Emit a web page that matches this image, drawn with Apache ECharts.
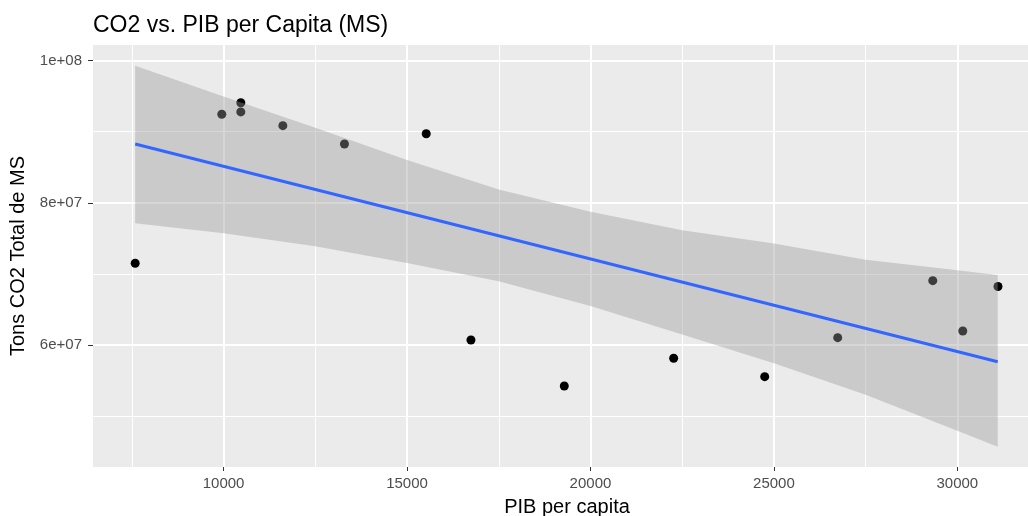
<!DOCTYPE html>
<html>
<head>
<meta charset="utf-8">
<script src="https://cdn.jsdelivr.net/npm/echarts@6/dist/echarts.min.js"></script>
<style>
  html, body { margin: 0; padding: 0; background: #ffffff; }
  #chart { width: 1028px; height: 516px; }
</style>
</head>
<body>
<div id="chart"></div>
<script>
// ---- data ----
const pibPerCapita = [7590, 9951, 10469, 10469, 11615, 13294, 15523, 16742, 19286, 22267, 24749, 26739, 29330, 30148, 31108];
const co2Total     = [7.151e7, 9.245e7, 9.408e7, 9.278e7, 9.085e7, 8.828e7, 8.972e7, 6.073e7, 5.426e7, 5.815e7, 5.557e7, 6.105e7, 6.906e7, 6.199e7, 6.825e7];

// fitted line (lm) end points
const fitX = [7590, 31100];
const fitY = [8.828e7, 5.767e7];

// confidence band edges
const bandX     = [7590, 10000, 12500, 15000, 17500, 20000, 22500, 25000, 27500, 30000, 31100];
const bandUpper = [9.928e7, 9.495e7, 9.057e7, 8.603e7, 8.188e7, 7.876e7, 7.615e7, 7.430e7, 7.201e7, 7.051e7, 6.986e7];
const bandLower = [7.713e7, 7.572e7, 7.390e7, 7.155e7, 6.898e7, 6.550e7, 6.148e7, 5.746e7, 5.302e7, 4.796e7, 4.570e7];

// axis ticks
const xTickValues = [10000, 15000, 20000, 25000, 30000];
const xTickLabels = ['10000', '15000', '20000', '25000', '30000'];
const yTickValues = [6e7, 8e7, 1e8];
const yTickLabels = ['6e+07', '8e+07', '1e+08'];

const xRange = [6440, 32280];
const yRange = [4.287e7, 1.0219e8];

// ---- chart ----
const chart = echarts.init(document.getElementById('chart'), null, { renderer: 'canvas' });

const points = pibPerCapita.map((x, i) => [x, co2Total[i]]);
const fitLine = fitX.map((x, i) => [x, fitY[i]]);

const FONT = '"Liberation Sans", Arial, Helvetica, sans-serif';

const option = {
  animation: false,
  backgroundColor: '#ffffff',
  title: {
    text: 'CO2 vs. PIB per Capita (MS)',
    left: 93,
    top: 14,
    padding: 0,
    textStyle: { fontFamily: FONT, fontSize: 23, fontWeight: 'normal', color: '#000000' }
  },
  grid: {
    left: 93, right: -13, top: 45, bottom: 49,
    containLabel: false,
    outerBoundsMode: 'none',
    show: true, backgroundColor: '#EBEBEB', borderWidth: 0
  },
  xAxis: {
    type: 'value',
    min: xRange[0], max: xRange[1],
    splitNumber: 5,
    name: 'PIB per capita',
    nameLocation: 'middle',
    nameGap: 30,
    nameTextStyle: { fontFamily: FONT, fontSize: 20, color: '#000000' },
    axisLine: { show: false },
    axisTick: { show: true, length: 4, customValues: xTickValues, lineStyle: { color: '#333333', width: 1 } },
    axisLabel: {
      customValues: xTickValues,
      margin: 9,
      fontFamily: FONT, fontSize: 15, color: '#4D4D4D',
      formatter: v => { const i = xTickValues.indexOf(v); return i >= 0 ? xTickLabels[i] : ''; }
    },
    splitLine: { show: true, lineStyle: { color: '#FFFFFF', width: 2 } },
    minorTick: { show: false, splitNumber: 2 },
    minorSplitLine: { show: true, lineStyle: { color: '#FFFFFF', width: 1 } }
  },
  yAxis: {
    type: 'value',
    min: yRange[0], max: yRange[1],
    splitNumber: 3,
    name: 'Tons CO2 Total de MS',
    nameLocation: 'middle',
    nameGap: 58,
    nameTextStyle: { fontFamily: FONT, fontSize: 20, color: '#000000' },
    axisLine: { show: false },
    axisTick: { show: true, length: 5, customValues: yTickValues, lineStyle: { color: '#333333', width: 1 } },
    axisLabel: {
      customValues: yTickValues,
      margin: 11,
      fontFamily: FONT, fontSize: 15, color: '#4D4D4D',
      formatter: v => { const i = yTickValues.indexOf(v); return i >= 0 ? yTickLabels[i] : ''; }
    },
    splitLine: { show: true, lineStyle: { color: '#FFFFFF', width: 2 } },
    minorTick: { show: false, splitNumber: 2 },
    minorSplitLine: { show: true, lineStyle: { color: '#FFFFFF', width: 1 } }
  },
  series: [
    {
      type: 'scatter',
      data: points,
      symbol: 'circle',
      symbolSize: 9,
      itemStyle: { color: '#000000', opacity: 1 },
      z: 3
    },
    {
      type: 'custom',
      data: [0],
      z: 4,
      renderItem: function (params, api) {
        const pts = [];
        for (let i = 0; i < bandX.length; i++) pts.push(api.coord([bandX[i], bandUpper[i]]));
        for (let i = bandX.length - 1; i >= 0; i--) pts.push(api.coord([bandX[i], bandLower[i]]));
        return {
          type: 'polygon',
          shape: { points: pts },
          style: { fill: 'rgba(153,153,153,0.4)', stroke: null }
        };
      }
    },
    {
      type: 'line',
      data: fitLine,
      symbol: 'none',
      lineStyle: { color: '#3366FF', width: 3 },
      z: 5
    }
  ]
};

chart.setOption(option);
</script>
</body>
</html>
